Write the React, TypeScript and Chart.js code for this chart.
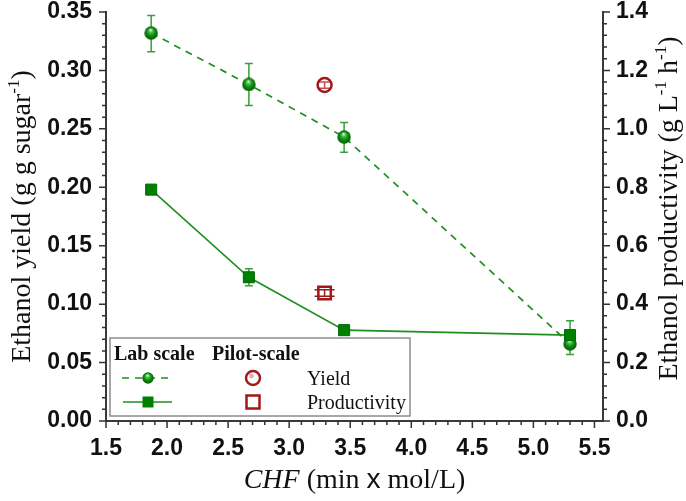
import { useEffect, useRef } from "react";
import { Chart, registerables } from "chart.js";

Chart.register(...registerables);

// ---- data ----
const labX = [1.87, 2.67, 3.45, 5.3];
const labYield = [0.332, 0.288, 0.243, 0.066];
const labYieldLow = [0.316, 0.27, 0.23, 0.057];
const labYieldHigh = [0.347, 0.306, 0.2555, 0.075];
const labProd = [0.792, 0.492, 0.311, 0.294];
const labProdLow = [0.792, 0.463, 0.311, 0.25];
const labProdHigh = [0.792, 0.521, 0.311, 0.343];

const pilotX = [3.29];
const pilotYield = [0.2875];
const pilotYieldLow = [0.2848];
const pilotYieldHigh = [0.2902];
const pilotProd = [0.438];
const pilotProdLow = [0.427];
const pilotProdHigh = [0.449];

const xTicks = [1.5, 2.0, 2.5, 3.0, 3.5, 4.0, 4.5, 5.0, 5.5];
const yieldTicks = [0, 0.05, 0.1, 0.15, 0.2, 0.25, 0.3, 0.35];
const prodTicks = [0, 0.2, 0.4, 0.6, 0.8, 1.0, 1.2, 1.4];

const legendHeaders = ["Lab scale", "Pilot-scale"];
const legendLabels = ["Yield", "Productivity"];

const xTitleParts = [
  { t: "CHF", italic: true },
  { t: " (min " },
  { t: "x", sans: true },
  { t: " mol/L)" },
];
const yTitleParts = [{ t: "Ethanol yield (g g sugar" }, { t: "-1", sup: true }, { t: ")" }];
const y1TitleParts = [
  { t: "Ethanol productivity (g L" },
  { t: "-1", sup: true },
  { t: " h" },
  { t: "-1", sup: true },
  { t: ")" },
];

const GREEN = "#008000";
const GREEN_LINE = "#1f8f1f";
const GREEN_ERR = "#3a9e3a";
const RED = "#a01818";
const SERIF = '"Liberation Serif", "Times New Roman", serif';
const SANS = '"Liberation Sans", Arial, sans-serif';

type Part = { t: string; italic?: boolean; sup?: boolean; sans?: boolean };

function partFont(p: Part, size: number, bold = false) {
  const s = p.sup ? Math.round(size * 0.6) : size;
  return `${p.italic ? "italic " : ""}${bold ? "bold " : ""}${s}px ${p.sans ? SANS : SERIF}`;
}

function drawRich(
  ctx: CanvasRenderingContext2D,
  parts: Part[],
  x: number,
  y: number,
  size: number,
  rotate: number
) {
  ctx.save();
  ctx.translate(x, y);
  ctx.rotate(rotate);
  let total = 0;
  const widths = parts.map((p) => {
    ctx.font = partFont(p, size);
    const w = ctx.measureText(p.t).width;
    total += w;
    return w;
  });
  let cx = -total / 2;
  ctx.fillStyle = "#111";
  ctx.textBaseline = "alphabetic";
  ctx.textAlign = "left";
  parts.forEach((p, i) => {
    ctx.font = partFont(p, size);
    ctx.fillText(p.t, cx, p.sup ? -size * 0.4 : 0);
    cx += widths[i];
  });
  ctx.restore();
}

function makeSphere(d: number) {
  const c = document.createElement("canvas");
  c.width = d;
  c.height = d;
  const g = c.getContext("2d")!;
  const r = d / 2;
  const grad = g.createRadialGradient(r - 0.5, r - r * 0.45, 0.3, r, r, r);
  grad.addColorStop(0, "#f2fff2");
  grad.addColorStop(0.22, "#55c055");
  grad.addColorStop(0.6, "#0a8a0a");
  grad.addColorStop(1, "#045804");
  g.fillStyle = grad;
  g.beginPath();
  g.arc(r, r, r - 0.3, 0, Math.PI * 2);
  g.fill();
  return c;
}

const errorBarPlugin = {
  id: "errorBars",
  beforeDatasetsDraw(chart: any) {
    const ctx: CanvasRenderingContext2D = chart.ctx;
    chart.data.datasets.forEach((ds: any) => {
      if (!ds.errLow) return;
      const ys = chart.scales[ds.yAxisID];
      const xs = chart.scales.x;
      ctx.save();
      ctx.strokeStyle = ds.errColor;
      ctx.lineWidth = 1.5;
      ds.data.forEach((pt: any, i: number) => {
        const lo = ds.errLow[i];
        const hi = ds.errHigh[i];
        if (hi - lo < 1e-9) return;
        const px = xs.getPixelForValue(pt.x);
        const p1 = ys.getPixelForValue(lo);
        const p2 = ys.getPixelForValue(hi);
        const cw = ds.capHalf;
        ctx.beginPath();
        ctx.moveTo(px, p1);
        ctx.lineTo(px, p2);
        ctx.moveTo(px - cw, p1);
        ctx.lineTo(px + cw, p1);
        ctx.moveTo(px - cw, p2);
        ctx.lineTo(px + cw, p2);
        ctx.stroke();
      });
      ctx.restore();
    });
  },
};

const decorPlugin = {
  id: "decor",
  afterDraw(chart: any) {
    const ctx: CanvasRenderingContext2D = chart.ctx;
    const { x, y, y1 } = chart.scales;
    const area = chart.chartArea;
    ctx.save();
    ctx.strokeStyle = "#333";
    ctx.lineWidth = 1.5;
    ctx.beginPath();
    // x ticks
    for (let i = 0; i <= 40; i++) {
      const v = 1.5 + i * 0.1;
      if (v > x.max + 1e-9) break;
      const px = x.getPixelForValue(v);
      const len = i % 5 === 0 ? 7 : 4;
      ctx.moveTo(px, area.bottom);
      ctx.lineTo(px, area.bottom + len);
    }
    // left y ticks
    for (let i = 0; i <= 35; i++) {
      const py = y.getPixelForValue(i * 0.01);
      const len = i % 5 === 0 ? 7 : 4;
      ctx.moveTo(area.left, py);
      ctx.lineTo(area.left - len, py);
    }
    // right y ticks
    for (let i = 0; i <= 35; i++) {
      const py = y1.getPixelForValue(i * 0.04);
      const len = i % 5 === 0 ? 7 : 4;
      ctx.moveTo(area.right, py);
      ctx.lineTo(area.right + len, py);
    }
    ctx.stroke();
    ctx.restore();

    // axis titles
    drawRich(ctx, xTitleParts, (area.left + area.right) / 2, 488, 28, 0);
    drawRich(ctx, yTitleParts, 30, (area.top + area.bottom) / 2, 28, -Math.PI / 2);
    drawRich(ctx, y1TitleParts, 677, (area.top + area.bottom) / 2 - 8, 28, -Math.PI / 2);

    // legend box
    ctx.save();
    ctx.fillStyle = "#fff";
    ctx.strokeStyle = "#8c8c8c";
    ctx.lineWidth = 1.5;
    ctx.fillRect(110, 338, 300, 78);
    ctx.strokeRect(110, 338, 300, 78);
    ctx.fillStyle = "#111";
    ctx.textBaseline = "alphabetic";
    ctx.font = `bold 20px ${SERIF}`;
    ctx.fillText(legendHeaders[0], 114, 360);
    ctx.fillText(legendHeaders[1], 212, 360);
    ctx.font = `20px ${SERIF}`;
    ctx.fillText(legendLabels[0], 307, 385);
    ctx.fillText(legendLabels[1], 307, 409);

    // row 1: lab yield (dashed + sphere)
    ctx.strokeStyle = GREEN_LINE;
    ctx.lineWidth = 1.7;
    ctx.setLineDash([7, 6]);
    ctx.beginPath();
    ctx.moveTo(122, 378);
    ctx.lineTo(174, 378);
    ctx.stroke();
    ctx.setLineDash([]);
    const sph = chart.$sphereSmall as HTMLCanvasElement;
    if (sph) ctx.drawImage(sph, 148 - sph.width / 2, 378 - sph.height / 2);

    // row 2: lab productivity (solid + square)
    ctx.beginPath();
    ctx.moveTo(123, 402);
    ctx.lineTo(172, 402);
    ctx.stroke();
    ctx.fillStyle = GREEN;
    ctx.fillRect(142.5, 396.5, 11, 11);

    // pilot markers
    ctx.strokeStyle = RED;
    ctx.lineWidth = 2.5;
    ctx.beginPath();
    ctx.arc(253, 378, 7, 0, Math.PI * 2);
    ctx.stroke();
    ctx.fillStyle = "rgba(200,120,120,0.6)";
    ctx.beginPath();
    ctx.arc(251.5, 376, 2.4, 0, Math.PI * 2);
    ctx.fill();
    ctx.strokeRect(246.5, 395.5, 13, 13);
    ctx.restore();
  },
};

export default function App() {
  const ref = useRef<HTMLCanvasElement | null>(null);

  useEffect(() => {
    if (!ref.current) return;
    const sphere = makeSphere(14);
    const sphereSmall = makeSphere(12);
    const tickFont = { family: SANS, size: 23, weight: "bold" as const };

    const chart = new Chart(ref.current, {
      type: "scatter",
      data: {
        datasets: [
          {
            label: "Lab productivity",
            data: labX.map((v, i) => ({ x: v, y: labProd[i] })),
            yAxisID: "y1",
            showLine: true,
            borderColor: GREEN_LINE,
            borderWidth: 1.6,
            pointStyle: "rect",
            pointRadius: 7.8,
            pointBackgroundColor: GREEN,
            pointBorderColor: "#006a00",
            pointBorderWidth: 1,
            errLow: labProdLow,
            errHigh: labProdHigh,
            errColor: GREEN_ERR,
            capHalf: 4,
          } as any,
          {
            label: "Lab yield",
            data: labX.map((v, i) => ({ x: v, y: labYield[i] })),
            yAxisID: "y",
            showLine: true,
            borderColor: GREEN_LINE,
            borderWidth: 1.7,
            borderDash: [7, 6],
            pointStyle: sphere,
            pointRadius: 7,
            errLow: labYieldLow,
            errHigh: labYieldHigh,
            errColor: GREEN_ERR,
            capHalf: 4,
          } as any,
          {
            label: "Pilot yield",
            data: pilotX.map((v, i) => ({ x: v, y: pilotYield[i] })),
            yAxisID: "y",
            showLine: false,
            pointStyle: "circle",
            pointRadius: 7,
            pointBackgroundColor: "rgba(255,255,255,0)",
            pointBorderColor: RED,
            pointBorderWidth: 2.5,
            errLow: pilotYieldLow,
            errHigh: pilotYieldHigh,
            errColor: "#c05050",
            capHalf: 6,
          } as any,
          {
            label: "Pilot productivity",
            data: pilotX.map((v, i) => ({ x: v, y: pilotProd[i] })),
            yAxisID: "y1",
            showLine: false,
            pointStyle: "rect",
            pointRadius: 8.8,
            pointBackgroundColor: "rgba(255,255,255,0)",
            pointBorderColor: RED,
            pointBorderWidth: 2.5,
            errLow: pilotProdLow,
            errHigh: pilotProdHigh,
            errColor: RED,
            capHalf: 10,
          } as any,
        ],
      },
      options: {
        animation: false,
        responsive: false,
        devicePixelRatio: window.devicePixelRatio || 1,
        layout: { padding: { top: 12, left: 0, right: 0, bottom: 0 } },
        plugins: {
          legend: { display: false },
          tooltip: { enabled: false },
          title: { display: false },
        },
        scales: {
          x: {
            type: "linear",
            min: 1.5,
            max: 5.57,
            afterBuildTicks: (s: any) => {
              s.ticks = xTicks.map((v) => ({ value: v }));
            },
            afterFit: (s: any) => {
              s.height = 80;
              s.paddingLeft = 0;
              s.paddingRight = 0;
            },
            grid: { display: false, drawTicks: false },
            border: { display: true, color: "#3a3a3a", width: 2 },
            ticks: {
              font: tickFont,
              color: "#111",
              padding: 14,
              maxRotation: 0,
              autoSkip: false,
              callback: (v: any) => Number(v).toFixed(1),
            },
          },
          y: {
            type: "linear",
            position: "left",
            min: 0,
            max: 0.35,
            afterBuildTicks: (s: any) => {
              s.ticks = yieldTicks.map((v) => ({ value: v }));
            },
            afterFit: (s: any) => {
              s.width = 106;
              s.paddingTop = 0;
              s.paddingBottom = 0;
            },
            grid: { display: false, drawTicks: false },
            border: { display: true, color: "#3a3a3a", width: 2 },
            ticks: {
              font: tickFont,
              color: "#111",
              padding: 14,
              autoSkip: false,
              callback: (v: any) => Number(v).toFixed(2),
            },
          },
          y1: {
            type: "linear",
            position: "right",
            min: 0,
            max: 1.4,
            afterBuildTicks: (s: any) => {
              s.ticks = prodTicks.map((v) => ({ value: v }));
            },
            afterFit: (s: any) => {
              s.width = 83;
              s.paddingTop = 0;
              s.paddingBottom = 0;
            },
            grid: { display: false, drawTicks: false },
            border: { display: true, color: "#3a3a3a", width: 2 },
            ticks: {
              font: tickFont,
              color: "#111",
              padding: 13,
              autoSkip: false,
              callback: (v: any) => Number(v).toFixed(1),
            },
          },
        },
      } as any,
      plugins: [errorBarPlugin, decorPlugin],
    });
    (chart as any).$sphereSmall = sphereSmall;
    chart.draw();

    return () => chart.destroy();
  }, []);

  return (
    <div style={{ position: "fixed", left: 0, top: 0, width: 686, height: 501, background: "#fff" }}>
      <canvas ref={ref} width={686} height={501} style={{ width: 686, height: 501, display: "block" }} />
    </div>
  );
}
